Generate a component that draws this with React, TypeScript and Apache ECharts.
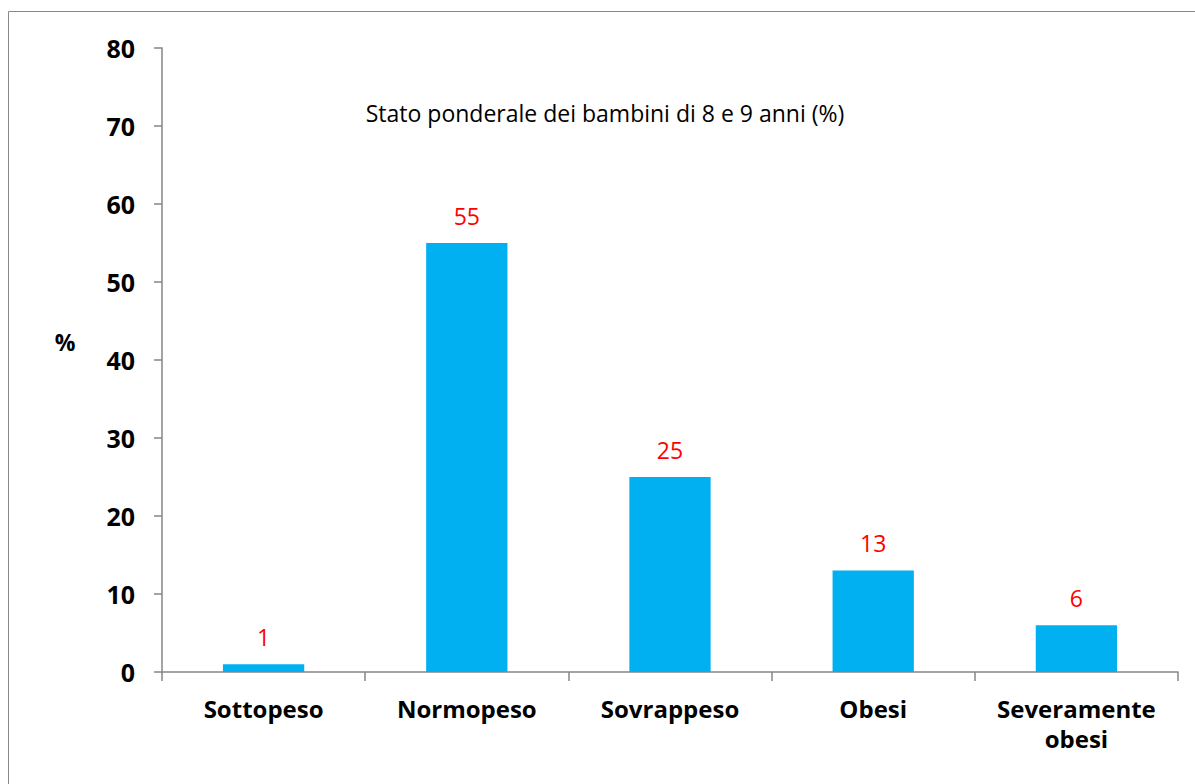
import React, { useEffect, useRef } from "react";
import * as echarts from "echarts";

const categories = ["Sottopeso", "Normopeso", "Sovrappeso", "Obesi", "Severamente\nobesi"];
const values = [1, 55, 25, 13, 6];
const titleText = "Stato ponderale dei bambini di 8 e 9 anni (%)";
const yAxisLabel = "%";
const yMin = 0;
const yMax = 80;
const yStep = 10;

const FONT = "'Open Sans', Lato, sans-serif";

export default function App() {
  const ref = useRef<HTMLDivElement>(null);
  useEffect(() => {
    if (!ref.current) return;
    const chart = echarts.init(ref.current, null, { renderer: "svg" });
    chart.setOption({
      animation: false,
      backgroundColor: "#ffffff",
      textStyle: { fontFamily: FONT },
      title: {
        text: titleText,
        left: 600,
        top: 96,
        textAlign: "center",
        textStyle: { fontFamily: FONT, fontSize: 23, fontWeight: "normal", color: "#000000" },
      },
      grid: { left: 162, right: 17, top: 48, bottom: 112, containLabel: false },
      xAxis: {
        type: "category",
        data: categories,
        axisLine: { show: true, lineStyle: { color: "#868686", width: 1.5 } },
        axisTick: { show: true, length: 9, lineStyle: { color: "#868686", width: 1.5 } },
        axisLabel: {
          interval: 0,
          margin: 21,
          color: "#000000",
          fontFamily: FONT,
          fontSize: 24,
          fontWeight: "bold",
          lineHeight: 30,
        },
      },
      yAxis: {
        type: "value",
        min: yMin,
        max: yMax,
        interval: yStep,
        splitLine: { show: false },
        axisLine: { show: true, lineStyle: { color: "#868686", width: 1.5 } },
        axisTick: { show: true, length: 8, lineStyle: { color: "#868686", width: 1.5 } },
        axisLabel: {
          margin: 27,
          color: "#000000",
          fontFamily: FONT,
          fontSize: 25,
          fontWeight: "bold",
        },
      },
      graphic: [
        {
          type: "rect",
          shape: { x: 8.5, y: 11.5, width: 1200, height: 800 },
          style: { fill: "none", stroke: "#898989", lineWidth: 1 },
          silent: true,
        },
        {
          type: "text",
          x: 65,
          y: 342,
          style: {
            text: yAxisLabel,
            fontFamily: FONT,
            fontSize: 23,
            fontWeight: "bold",
            fill: "#000000",
            align: "center",
            verticalAlign: "middle",
          },
        },
      ],
      series: [
        {
          type: "bar",
          data: values,
          barWidth: "40%",
          itemStyle: { color: "#00B0F0" },
          label: {
            show: true,
            position: "top",
            distance: 16,
            color: "#FF0000",
            fontFamily: FONT,
            fontSize: 23,
            fontWeight: "normal",
          },
        },
      ],
    });
    return () => chart.dispose();
  }, []);
  return (
    <div
      ref={ref}
      style={{ position: "absolute", left: 0, top: 0, width: 1195, height: 784 }}
    />
  );
}
